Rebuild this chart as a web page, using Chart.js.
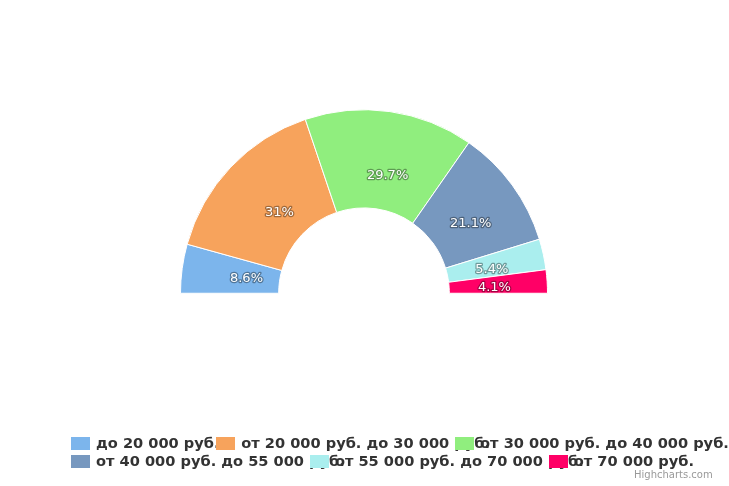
<!DOCTYPE html>
<html>
<head>
<meta charset="utf-8">
<script src="https://cdn.jsdelivr.net/npm/chart.js@4.4.1/dist/chart.umd.min.js"></script>
<style>
  html, body { margin: 0; padding: 0; background: #fff; }
  #wrap { position: relative; width: 729px; height: 486px; }
  #credits { position: absolute; left: 634px; top: 469px; font: 10px "DejaVu Sans", sans-serif; color: #999; }
</style>
</head>
<body>
<div id="wrap">
  <canvas id="chart" width="729" height="486"></canvas>
  <div id="credits">Highcharts.com</div>
</div>
<script>
const categories = [
  'до 20 000 руб.',
  'от 20 000 руб. до 30 000 руб.',
  'от 30 000 руб. до 40 000 руб.',
  'от 40 000 руб. до 55 000 руб.',
  'от 55 000 руб. до 70 000 руб.',
  'от 70 000 руб.'
];
const shares = [8.6, 31, 29.7, 21.1, 5.4, 4.1];
const colors = ['#7cb5ec', '#f7a35c', '#90ee7e', '#7798bf', '#aaeeee', '#ff0066'];

// percent labels inside the slices, white with a dark outline
const sliceLabels = {
  id: 'sliceLabels',
  afterDatasetsDraw(chart) {
    const ctx = chart.ctx;
    const meta = chart.getDatasetMeta(0);
    ctx.save();
    ctx.font = '13px "DejaVu Sans"';
    ctx.textAlign = 'center';
    ctx.textBaseline = 'middle';
    ctx.lineJoin = 'round';
    meta.data.forEach((arc, i) => {
      const p = arc.getProps(['x', 'y', 'startAngle', 'endAngle', 'innerRadius', 'outerRadius'], true);
      const mid = (p.startAngle + p.endAngle) / 2;
      const r = p.innerRadius + (p.outerRadius - p.innerRadius) * 0.36;
      const x = p.x + Math.cos(mid) * r + 6 + 4 * Math.cos(mid);
      const y = p.y + Math.sin(mid) * r + 2;
      const txt = shares[i] + '%';
      ctx.strokeStyle = 'rgba(0,0,0,0.35)';
      ctx.lineWidth = 2.5;
      ctx.strokeText(txt, x, y);
      ctx.fillStyle = '#fff';
      ctx.fillText(txt, x, y);
    });
    ctx.restore();
  }
};

// legend laid out like the original: widths measured with a lighter font, drawn bold
const hcLegend = {
  id: 'hcLegend',
  afterDraw(chart) {
    const ctx = chart.ctx;
    ctx.save();
    ctx.font = '12px "DejaVu Sans"';
    const widths = categories.map(c => ctx.measureText(c).width + 54);
    const maxW = chart.width - 40;
    const rows = [[]];
    let rw = 0;
    widths.forEach((w, i) => {
      if (rw + w > maxW && rows[rows.length - 1].length) { rows.push([]); rw = 0; }
      rows[rows.length - 1].push(i);
      rw += w;
    });
    const legendW = Math.max(...rows.map(r => r.reduce((s, i) => s + widths[i], 0)));
    const left = Math.round((chart.width - legendW) / 2 + 17.5);
    ctx.font = 'bold 14.6px "DejaVu Sans"';
    ctx.textBaseline = 'middle';
    rows.forEach((row, ri) => {
      const cy = chart.height - 42 + ri * 18;
      let x = left;
      row.forEach(i => {
        ctx.fillStyle = colors[i];
        ctx.fillRect(Math.round(x), cy - 7, 19, 13);
        ctx.fillStyle = '#333';
        ctx.fillText(categories[i], x + 25, cy);
        x += widths[i];
      });
    });
    ctx.restore();
  }
};

new Chart(document.getElementById('chart'), {
  type: 'doughnut',
  data: {
    labels: categories,
    datasets: [{
      data: shares,
      backgroundColor: colors,
      borderColor: '#fff',
      borderWidth: 1
    }]
  },
  options: {
    responsive: false,
    animation: false,
    rotation: -90,
    circumference: 180,
    cutout: '46.5%',
    layout: { padding: { left: 180, right: 181, top: 109, bottom: 192 } },
    plugins: {
      legend: { display: false },
      tooltip: { enabled: false }
    }
  },
  plugins: [sliceLabels, hcLegend]
});
</script>
</body>
</html>
